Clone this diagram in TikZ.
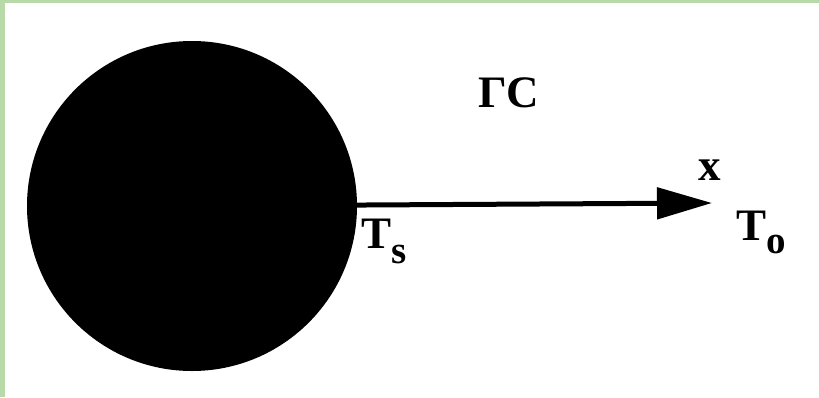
\documentclass[tikz,border=0pt]{standalone}
\usepackage{fontspec}
\setmainfont{Liberation Serif}
\usetikzlibrary{arrows.meta}
\definecolor{bggreen}{RGB}{184,218,168}
\tikzset{
  lbl/.style={anchor=base west, inner sep=0pt, font=\bfseries\fontsize{45}{50}\selectfont},
  subl/.style={font=\bfseries\fontsize{39}{42}\selectfont}
}
\begin{document}
\begin{tikzpicture}[x=1pt,y=-1pt]
\useasboundingbox (0,0) rectangle (819,397);
\fill[bggreen] (0,0) rectangle (819,397);
\fill[white] (5,3) rectangle (819,397);
\node[circle, fill=black, draw=none, minimum size=330pt, inner sep=0pt] (ball) at (192,206) {};
\coordinate (tip) at (712,203);
\draw[line width=5pt, -{Triangle[length=55pt,width=31pt]}] (ball) -- (tip);
\node[lbl] (gs) at (478,107) {ГС};
\node[lbl] (xl) at (698,180) {x};
\node[lbl] (ts) at (361,248) {T\raisebox{-15pt}{\fontsize{39}{42}\selectfont s}};
\node[lbl] (to) at (736,240) {T\raisebox{-13pt}{\fontsize{39}{42}\selectfont o}};
\end{tikzpicture}
\end{document}
